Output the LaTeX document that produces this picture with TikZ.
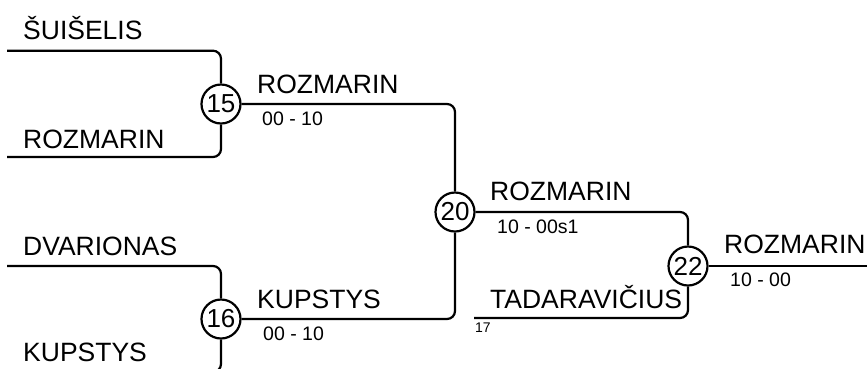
\documentclass[tikz,border=0pt]{standalone}
\usepackage{fontspec}
\setmainfont{Liberation Sans}
\begin{document}
\begin{tikzpicture}[x=1pt,y=-1pt,
  conn/.style={line width=2.2pt, rounded corners=8pt},
  match/.style={circle, draw, line width=2.2pt, fill=white, inner sep=0pt, minimum size=39pt, font=\fontsize{26}{26}\selectfont},
  pname/.style={anchor=base west, inner sep=0pt, font=\fontsize{26.5}{26.5}\selectfont},
  pscore/.style={anchor=base west, inner sep=0pt, font=\fontsize{19.5}{19.5}\selectfont},
  pseed/.style={anchor=base west, inner sep=0pt, font=\fontsize{14}{14}\selectfont}]
\useasboundingbox (0,0) rectangle (867,368);
\clip (0,0) rectangle (867,368);
% start coordinates
\coordinate (s1) at (7,50.7);
\coordinate (s2) at (7,157);
\coordinate (s3) at (7,266);
\coordinate (s4) at (7,372);
\coordinate (s5) at (474,318);
\coordinate (fin) at (870,266);
% match circles
\node[match] (m15) at (221,104) {15};
\node[match] (m16) at (221,319) {16};
\node[match] (m20) at (455,212) {20};
\node[match] (m22) at (688,266) {22};
% connectors
\draw[conn] (s1) -| (m15);
\draw[conn] (s2) -| (m15);
\draw[conn] (s3) -| (m16);
\draw[conn] (s4) -| (m16);
\draw[conn] (m15) -| (m20);
\draw[conn] (m16) -| (m20);
\draw[conn] (m20) -| (m22);
\draw[conn] (s5) -| (m22);
\draw[conn] (m22) -- (fin);
% names
\node[pname] (n1) at (23,39) {ŠUIŠELIS};
\node[pname] (n2) at (23,148) {ROZMARIN};
\node[pname] (n3) at (23,255) {DVARIONAS};
\node[pname] (n4) at (23,361) {KUPSTYS};
\node[pname] (n5) at (257,93) {ROZMARIN};
\node[pname] (n6) at (257,308) {KUPSTYS};
\node[pname] (n7) at (490,200) {ROZMARIN};
\node[pname] (n8) at (490,308) {TADARAVIČIUS};
\node[pname] (n9) at (724,253) {ROZMARIN};
% scores
\node[pscore] (c1) at (262,125) {00 - 10};
\node[pscore] (c2) at (263,340) {00 - 10};
\node[pscore] (c3) at (497,233) {10 - 00s1};
\node[pscore] (c4) at (730,286) {10 - 00};
\node[pseed] (d1) at (475,332) {17};
\end{tikzpicture}
\end{document}
